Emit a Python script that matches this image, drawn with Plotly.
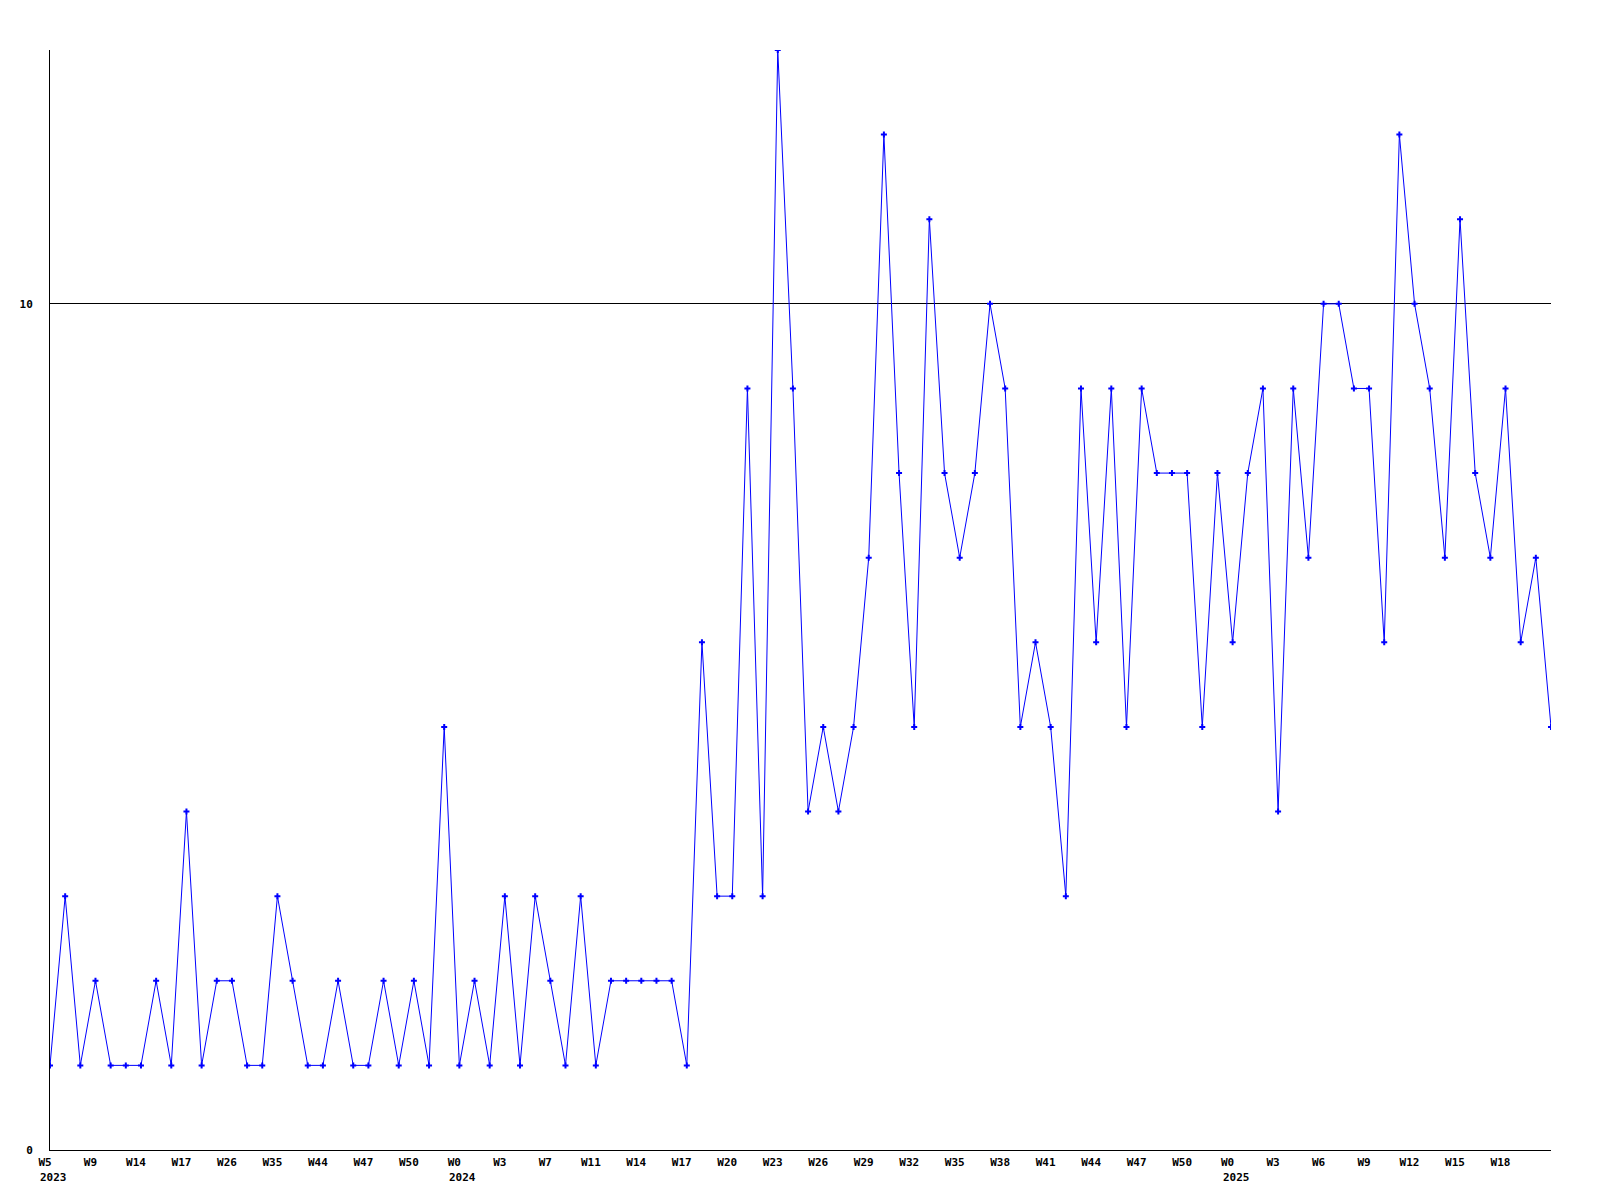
import plotly.graph_objects as go

# Weekly counts (one point per week present in the data)
values = [
    1, 3, 1, 2, 1, 1, 1, 2, 1, 4,
    1, 2, 2, 1, 1, 3, 2, 1, 1, 2,
    1, 1, 2, 1, 2, 1, 5, 1, 2, 1,
    3, 1, 3, 2, 1, 3, 1, 2, 2, 2,
    2, 2, 1, 6, 3, 3, 9, 3, 13, 9,
    4, 5, 4, 5, 7, 12, 8, 5, 11, 8,
    7, 8, 10, 9, 5, 6, 5, 3, 9, 6,
    9, 5, 9, 8, 8, 8, 5, 8, 6, 8,
    9, 4, 9, 7, 10, 10, 9, 9, 6, 12,
    10, 9, 7, 11, 8, 7, 9, 6, 7, 5,
]

# Tick labels, one for every third point
tick_labels = [
    "W5", "W9", "W14", "W17", "W26", "W35", "W44", "W47", "W50",
    "W0", "W3", "W7", "W11", "W14", "W17", "W20", "W23", "W26", "W29",
    "W32", "W35", "W38", "W41", "W44", "W47", "W50",
    "W0", "W3", "W6", "W9", "W12", "W15", "W18",
]
year_labels = [
    "2023", "", "", "", "", "", "", "", "",
    "2024", "", "", "", "", "", "", "", "", "",
    "", "", "", "", "", "", "",
    "2025", "", "", "", "", "", "",
]
y_ticks = [0, 10]

TICK_STEP = 3
x = list(range(len(values)))
tick_positions = [i * TICK_STEP for i in range(len(tick_labels))]

font = dict(family="DejaVu Sans Mono", size=11, color="black")

fig = go.Figure()
fig.add_trace(go.Scatter(
    x=x, y=values, mode="lines+markers",
    line=dict(color="#0000ff", width=1),
    marker=dict(symbol="cross", size=5, color="#0000ff", line=dict(width=0)),
    showlegend=False, hoverinfo="skip",
))

annotations = []
for pos, yr in zip(tick_positions, year_labels):
    if yr:
        annotations.append(dict(
            x=pos, y=0, xref="x", yref="paper", text="<b>%s</b>" % yr,
            showarrow=False, xanchor="left", yanchor="top",
            xshift=-12, yshift=-19, font=font,
        ))

fig.update_layout(
    width=1600, height=1200,
    margin=dict(l=42, r=57, t=42, b=58),
    paper_bgcolor="white", plot_bgcolor="white",
    font=font,
    annotations=annotations,
    xaxis=dict(
        range=[0, len(values) - 1],
        tickmode="array", tickvals=tick_positions,
        ticktext=["<b>%s</b>" % t for t in tick_labels],
        showgrid=False, zeroline=False,
        showline=True, linecolor="black", linewidth=1,
        ticks="", ticklabelshift=-5, ticklabelstandoff=2,
        tickfont=font,
    ),
    yaxis=dict(
        range=[0, 13],
        tickmode="array", tickvals=y_ticks,
        ticktext=["<b>%d</b>" % t for t in y_ticks],
        showgrid=True, gridcolor="black", gridwidth=1,
        zeroline=False,
        showline=True, linecolor="black", linewidth=1,
        ticks="", ticklabelstandoff=14,
        tickfont=font,
    ),
)

fig.write_html("out.html")
